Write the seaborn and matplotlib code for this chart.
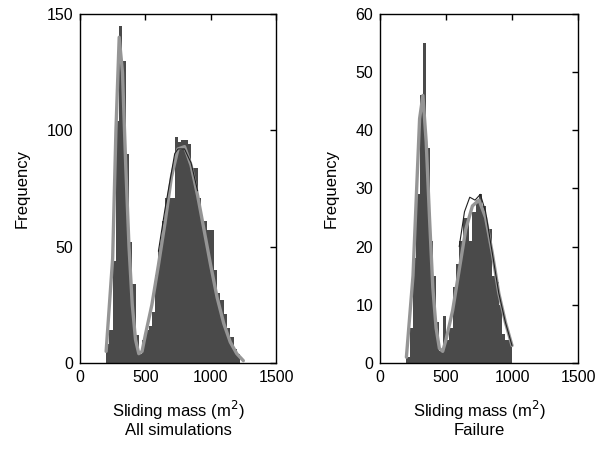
import numpy as np
import pandas as pd
import matplotlib
matplotlib.use("Agg")
import matplotlib.pyplot as plt
import seaborn as sns

sns.set_style("white")
plt.rcParams['font.family'] = ['Liberation Sans', 'DejaVu Sans']
plt.rcParams['text.color'] = 'black'
plt.rcParams['axes.labelcolor'] = 'black'

# ---- data ----
bin_width = 25
all_bins = [200, 225, 250, 275, 300, 325, 350, 375, 400, 425, 450, 475, 500, 525,
            550, 575, 600, 625, 650, 675, 700, 725, 750, 775, 800, 825, 850, 875,
            900, 925, 950, 975, 1000, 1025, 1050, 1075, 1100, 1125, 1150, 1175, 1200]
all_counts = [8, 14, 44, 104, 145, 130, 90, 52, 34, 12, 4, 10, 14, 16,
              22, 38, 48, 61, 71, 71, 71, 97, 95, 96, 96, 94, 84, 84,
              71, 61, 61, 57, 57, 40, 30, 27, 21, 15, 11, 6, 4]

fail_bins = [200, 225, 250, 275, 300, 325, 350, 375, 400, 425, 450, 475, 500, 525,
             550, 575, 600, 625, 650, 675, 700, 725, 750, 775, 800, 825, 850, 875,
             900, 925, 950, 975]
fail_counts = [1, 6, 18, 29, 46, 55, 37, 21, 15, 7, 2, 8, 4, 6,
               13, 17, 21, 25, 25, 21, 26, 28, 29, 27, 23, 23, 15, 14,
               10, 5, 4, 4]

# fitted curves (gray thick) and thin dark curves
all_fit_x = [200, 250, 275, 300, 325, 350, 375, 400, 425, 450, 475, 500, 550, 600,
             650, 700, 750, 800, 850, 900, 950, 1000, 1050, 1100, 1150, 1200, 1250]
all_fit_y = [5, 45, 100, 140, 125, 85, 50, 25, 10, 4, 5, 12, 25, 42,
             60, 80, 92, 93, 85, 72, 57, 42, 28, 17, 9, 4, 1]
all_line_x = [600, 650, 700, 725, 750, 800, 850, 900]
all_line_y = [48, 66, 82, 90, 92, 92, 86, 74]

fail_fit_x = [200, 250, 300, 325, 350, 375, 400, 425, 450, 475, 500, 550, 600,
              650, 700, 750, 800, 850, 900, 950, 1000]
fail_fit_y = [1, 15, 42, 46, 38, 25, 13, 6, 2.5, 2, 4, 9, 16,
              23, 27, 28, 25, 19, 12, 7, 3]
fail_line_x = [600, 640, 680, 720, 760, 800, 850, 900, 950, 1000]
fail_line_y = [20, 26, 28.5, 28, 29, 26, 19, 12, 7, 3]

panels = [
    dict(bins=all_bins, counts=all_counts, fx=all_fit_x, fy=all_fit_y,
         lx=all_line_x, ly=all_line_y, ymax=150, yticks=[0, 50, 100, 150],
         sub="All simulations", left=80, w=196),
    dict(bins=fail_bins, counts=fail_counts, fx=fail_fit_x, fy=fail_fit_y,
         lx=fail_line_x, ly=fail_line_y, ymax=60, yticks=[0, 10, 20, 30, 40, 50, 60],
         sub="Failure", left=380, w=198),
]

W, H = 596, 453
fig = plt.figure(figsize=(W / 100, H / 100), dpi=100)
bar_color = "#4a4a4a"

for p in panels:
    ax = fig.add_axes([p["left"] / W, 1 - 363 / H, p["w"] / W, 349 / H])
    edges = list(p["bins"]) + [p["bins"][-1] + bin_width]
    df = pd.DataFrame({"x": np.array(p["bins"]) + bin_width / 2, "w": p["counts"]})
    sns.histplot(data=df, x="x", weights="w", bins=edges, color=bar_color,
                 alpha=1.0, linewidth=0, ax=ax)
    sns.lineplot(x=p["fx"], y=p["fy"], color="#959595", linewidth=2.4, ax=ax)
    sns.lineplot(x=p["lx"], y=p["ly"], color="#202020", linewidth=0.8, ax=ax)
    ax.set_xlim(0, 1500)
    ax.set_ylim(0, p["ymax"])
    ax.set_xticks([0, 500, 1000, 1500])
    ax.set_yticks(p["yticks"])
    ax.tick_params(direction="in", length=4, width=1, top=True, right=True,
                   labelsize=11.5, colors="black", labelcolor="black", pad=5)
    for s in ax.spines.values():
        s.set_color("black")
        s.set_linewidth(1.0)
    ax.set_ylabel("Frequency", fontsize=12, labelpad=12, color="black")
    ax.set_xlabel("Sliding mass (m$^2$)\n" + p["sub"], fontsize=12,
                  labelpad=10, linespacing=1.1, color="black")

fig.savefig("out.png", dpi=100)
